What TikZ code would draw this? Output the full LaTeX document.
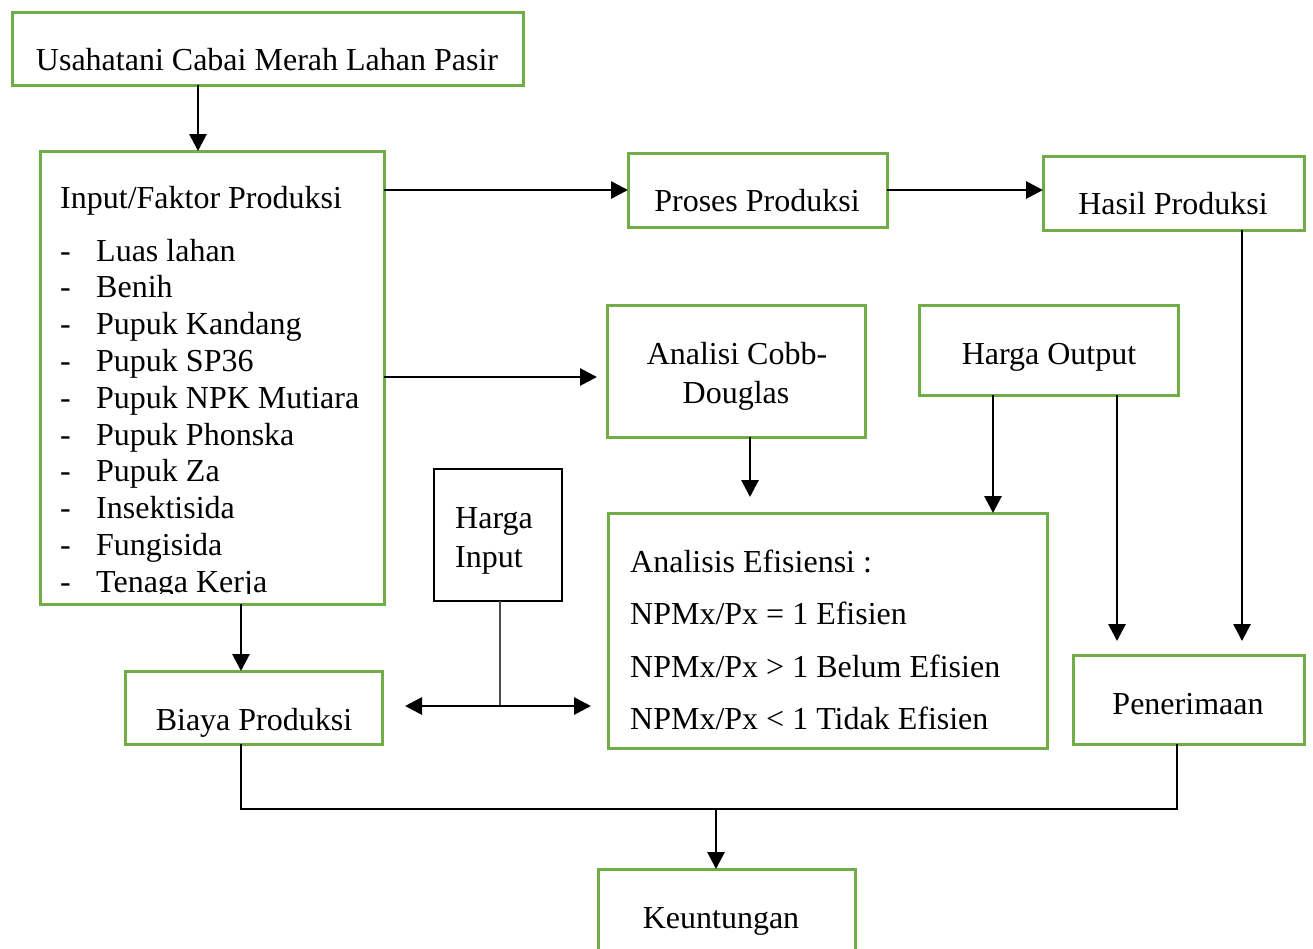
\documentclass[tikz,border=0pt]{standalone}
\usepackage{fontspec}
\setmainfont{Liberation Serif}
\usetikzlibrary{arrows.meta}
\definecolor{gr}{HTML}{70AD47}
\tikzset{
  gbox/.style={draw=gr, line width=3pt, inner sep=0pt, outer sep=0pt, anchor=north west},
  bbox/.style={draw=black, line width=1.8pt, inner sep=0pt, outer sep=0pt, anchor=north west},
  txt/.style={inner sep=0pt, font=\fontsize{32}{37}\selectfont},
  tip/.tip={Triangle[length=17pt,width=17pt]},
  arr/.style={line width=2.8pt, -tip},
  ln/.style={line width=1.8pt}
}
\begin{document}
\begin{tikzpicture}[x=1pt,y=-1pt]
\useasboundingbox (0,0) rectangle (1313,948);
% boxes
\node[gbox, minimum width=511pt, minimum height=73pt] (usa) at (12,12) {};
\node[gbox, minimum width=344pt, minimum height=453pt] (inp) at (40,151) {};
\node[gbox, minimum width=259pt, minimum height=74pt] (pro) at (628,153) {};
\node[gbox, minimum width=261pt, minimum height=74pt] (has) at (1043,156) {};
\node[gbox, minimum width=258pt, minimum height=132pt] (cob) at (607,305) {};
\node[gbox, minimum width=259pt, minimum height=90pt] (hou) at (919,305) {};
\node[bbox, minimum width=128pt, minimum height=132pt] (hin) at (434,469) {};
\node[gbox, minimum width=439pt, minimum height=235pt] (efi) at (608,513) {};
\node[gbox, minimum width=257pt, minimum height=73pt] (bia) at (125,671) {};
\node[gbox, minimum width=231pt, minimum height=89pt] (pen) at (1073,655) {};
\node[gbox, minimum width=257pt, minimum height=100pt] (keu) at (598,869) {};
% texts
\node[txt, anchor=base] (usaT) at (267,70) {Usahatani Cabai Merah Lahan Pasir};
\node[txt, anchor=base west] (inpT) at (60,208) {Input/Faktor Produksi};
\begin{scope}
\clip (40,151) rectangle (384,593);
\foreach \t [count=\i] in {Luas lahan,Benih,Pupuk Kandang,Pupuk SP36,Pupuk NPK Mutiara,Pupuk Phonska,Pupuk Za,Insektisida,Fungisida,Tenaga Kerja}{
  \node[txt, anchor=base west] (d\i) at (60,{261+36.8*(\i-1)}) {-};
  \node[txt, anchor=base west] (l\i) at (96,{261+36.8*(\i-1)}) {\t};
}
\end{scope}
\node[txt, anchor=base] (proT) at (757,211) {Proses Produksi};
\node[txt, anchor=base] (hasT) at (1173,214) {Hasil Produksi};
\node[txt, anchor=base] (cobT1) at (737,364) {Analisi Cobb-};
\node[txt, anchor=base] (cobT2) at (736,403) {Douglas};
\node[txt, anchor=base] (houT) at (1049,364) {Harga Output};
\node[txt, anchor=base west] (hinT1) at (455,528) {Harga};
\node[txt, anchor=base west] (hinT2) at (455,567) {Input};
\node[txt, anchor=base west] (efT1) at (630,572) {Analisis Efisiensi :};
\node[txt, anchor=base west] (efT2) at (630,624) {NPMx/Px = 1 Efisien};
\node[txt, anchor=base west] (efT3) at (630,677) {NPMx/Px > 1 Belum Efisien};
\node[txt, anchor=base west] (efT4) at (630,729) {NPMx/Px < 1 Tidak Efisien};
\node[txt, anchor=base] (biaT) at (254,730) {Biaya Produksi};
\node[txt, anchor=base] (penT) at (1188,714) {Penerimaan};
\node[txt, anchor=base] (keuT) at (721,928) {Keuntungan};
% connectors
\coordinate (c1) at (198,0);
\draw[arr] (usa.south -| c1) -- (inp.north -| c1);
\coordinate (c2) at (0,190);
\draw[arr] (inp.east |- c2) -- (pro.west |- c2);
\draw[arr] (pro.east |- c2) -- (has.west |- c2);
\coordinate (c3) at (597,377);
\draw[arr] (inp.east |- c3) -- (c3);
\coordinate (c4) at (750,497);
\draw[arr] (cob.south -| c4) -- (c4);
\coordinate (c5) at (993,0);
\draw[arr] (hou.south -| c5) -- (efi.north -| c5);
\coordinate (c6) at (1117,641);
\draw[arr] (hou.south -| c6) -- (c6);
\coordinate (c7) at (1242,641);
\draw[arr] (has.south -| c7) -- (c7);
\coordinate (c8) at (241,0);
\draw[arr] (inp.south -| c8) -- (bia.north -| c8);
\coordinate (hj) at (500,706);
\coordinate (hl) at (405,706);
\coordinate (hr) at (591,706);
\draw[line width=1.6pt, black!70] (hin.south -| hj) -- (hj);
\draw[line width=2.8pt, tip-tip] (hl) -- (hr);
\coordinate (b1) at (241,809);
\coordinate (b2) at (1177,809);
\coordinate (bm) at (716,809);
\draw[ln] (bia.south -| b1) -- (b1) -- (b2) -- (pen.south -| b2);
\draw[arr] (bm) -- (keu.north -| bm);
\end{tikzpicture}
\end{document}
